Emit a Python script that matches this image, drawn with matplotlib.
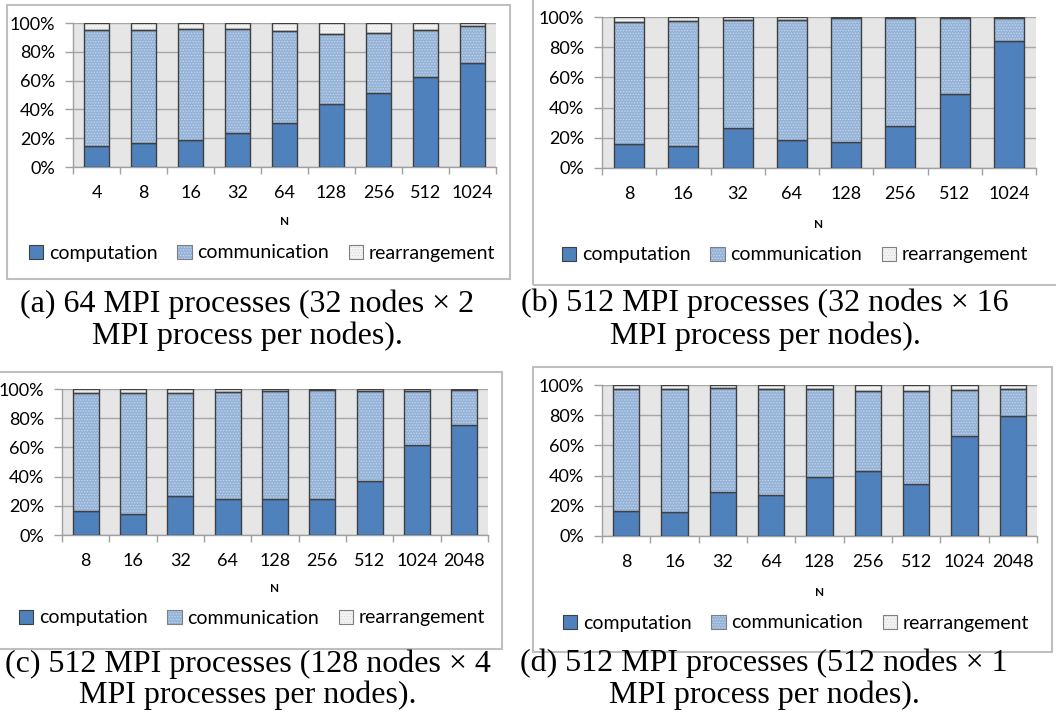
import matplotlib
matplotlib.use('Agg')
import matplotlib.pyplot as plt
from matplotlib.patches import Patch, Rectangle
from matplotlib.ticker import FixedLocator, PercentFormatter

plt.rcParams['font.family'] = ['Lato', 'DejaVu Sans']
plt.rcParams['font.serif'] = ['Liberation Serif', 'DejaVu Serif']
plt.rcParams['hatch.linewidth'] = 0.6

W, H = 1056, 727

# data (percent of run time)
n_a = ['4', '8', '16', '32', '64', '128', '256', '512', '1024']
comp_a = [14.7, 16.7, 18.6, 23.7, 30.5, 44.0, 51.6, 62.3, 72.1]
comm_a = [80.2, 78.2, 77.0, 71.9, 63.7, 48.3, 41.2, 33.0, 25.6]
rear_a = [5.1, 5.1, 4.4, 4.4, 5.8, 7.7, 7.2, 4.7, 2.3]

n_b = ['8', '16', '32', '64', '128', '256', '512', '1024']
comp_b = [15.7, 14.6, 26.5, 18.8, 17.4, 27.8, 49.2, 84.3]
comm_b = [81.0, 82.5, 71.3, 79.4, 81.7, 71.3, 49.9, 15.0]
rear_b = [3.3, 2.9, 2.2, 1.8, 0.9, 0.9, 0.9, 0.7]

n_c = ['8', '16', '32', '64', '128', '256', '512', '1024', '2048']
comp_c = [16.5, 14.6, 26.8, 24.5, 24.5, 24.5, 37.1, 61.8, 75.5]
comm_c = [80.8, 82.7, 70.7, 73.2, 73.9, 74.6, 61.8, 37.1, 23.6]
rear_c = [2.7, 2.7, 2.5, 2.3, 1.6, 0.9, 1.1, 1.1, 0.9]

n_d = ['8', '16', '32', '64', '128', '256', '512', '1024', '2048']
comp_d = [16.4, 15.9, 29.2, 27.0, 39.4, 42.9, 34.7, 66.2, 79.2]
comm_d = [80.9, 81.7, 68.8, 70.6, 58.2, 53.3, 61.5, 30.3, 18.1]
rear_d = [2.7, 2.4, 2.0, 2.4, 2.4, 3.8, 3.8, 3.5, 2.7]

series_names = ['computation', 'communication', 'rearrangement']
captions = [
    ['(a) 64 MPI processes (32 nodes \u00d7 2', 'MPI process per nodes).'],
    ['(b) 512 MPI processes (32 nodes \u00d7 16', 'MPI process per nodes).'],
    ['(c) 512 MPI processes (128 nodes \u00d7 4', 'MPI processes per nodes).'],
    ['(d) 512 MPI processes (512 nodes \u00d7 1', 'MPI process per nodes).'],
]

face = ['#4F81BD', '#95B3D7', '#F4F4F4']
dots = [None, '#C5D7EE', '#DADADA']
edge = '#404040'

# layout in pixels: plot area, frame box, N label, legend centre, caption
panels = [
    dict(ax=(73, 23, 496, 167), frame=(7, 5, 510, 279), n_y=222, n_x=285,
         leg=(262, 253), cap_x=247, cap_y=(312, 344)),
    dict(ax=(602, 17, 1036, 168), frame=(533, -5, 1062, 285), n_y=225, n_x=819,
         leg=(795, 255), cap_x=765, cap_y=(311, 344)),
    dict(ax=(62, 389, 488, 535), frame=(-5, 372, 502, 649), n_y=589, n_x=275,
         leg=(252, 618), cap_x=248, cap_y=(672, 703)),
    dict(ax=(602, 385, 1037, 536), frame=(533, 367, 1052, 652), n_y=593, n_x=820,
         leg=(796, 623), cap_x=764, cap_y=(671, 703)),
]
data = [(n_a, comp_a, comm_a, rear_a), (n_b, comp_b, comm_b, rear_b),
        (n_c, comp_c, comm_c, rear_c), (n_d, comp_d, comm_d, rear_d)]

fig = plt.figure(figsize=(W / 100, H / 100), dpi=100)


def fx(x):
    return x / W


def fy(y):
    return 1 - y / H


for p, (labels, comp, comm, rear), cap in zip(panels, data, captions):
    x0, y0, x1, y1 = p['ax']
    fr = p['frame']
    fig.add_artist(Rectangle((fx(fr[0]), fy(fr[3])), fx(fr[2] - fr[0]), (fr[3] - fr[1]) / H,
                             transform=fig.transFigure, fill=False,
                             edgecolor='#BFBFBF', lw=1.5, zorder=0))
    ax = fig.add_axes([fx(x0), fy(y1), fx(x1 - x0), (y1 - y0) / H])
    ax.set_facecolor('#E6E6E6')
    pos = list(range(len(labels)))
    bottom = [0.0] * len(labels)
    for vals, fc, dc in zip([comp, comm, rear], face, dots):
        if dc is None:
            ax.bar(pos, vals, 0.55, bottom=bottom, color=fc, edgecolor=edge, lw=1.0, zorder=3)
        else:
            ax.bar(pos, vals, 0.55, bottom=bottom, color=fc, edgecolor=dc, lw=0,
                   hatch='......', zorder=3)
            ax.bar(pos, vals, 0.55, bottom=bottom, fill=False, edgecolor=edge, lw=1.0, zorder=4)
        bottom = [b + v for b, v in zip(bottom, vals)]

    ax.set_xlim(-0.5, len(labels) - 0.5)
    ax.set_ylim(0, 100)
    ax.set_yticks([0, 20, 40, 60, 80, 100])
    ax.yaxis.set_major_formatter(PercentFormatter(decimals=0))
    ax.set_xticks(pos)
    ax.set_xticklabels(labels)
    ax.xaxis.set_minor_locator(FixedLocator([i - 0.5 for i in range(len(labels) + 1)]))
    ax.tick_params(axis='x', which='major', length=0, pad=13, labelsize=13)
    ax.tick_params(axis='x', which='minor', length=5, width=1, color='#A0A0A0')
    ax.tick_params(axis='y', length=6, width=1, color='#A0A0A0', pad=7, labelsize=13)
    ax.grid(axis='y', color='#A6A6A6', lw=1, zorder=1)
    ax.set_axisbelow(True)
    for s in ['top', 'right']:
        ax.spines[s].set_visible(False)
    for s in ['left', 'bottom']:
        ax.spines[s].set_color('#A0A0A0')
        ax.spines[s].set_linewidth(1)

    fig.text(fx(p['n_x']), fy(p['n_y']), 'N', ha='center', va='center',
             fontsize=8.5, fontweight='bold')

    handles = []
    for fc, dc in zip(face, dots):
        if dc is None:
            handles.append(Patch(facecolor=fc, edgecolor=edge, lw=0.8))
        else:
            handles.append((Patch(facecolor=fc, edgecolor=dc, lw=0, hatch='......'),
                            Patch(fill=False, edgecolor='#7F7F7F', lw=0.8)))
    fig.legend(handles, series_names, loc='center', ncol=3, frameon=False,
               bbox_to_anchor=(fx(p['leg'][0]), fy(p['leg'][1])),
               fontsize=14, handlelength=0.75, handleheight=0.75,
               handletextpad=0.3, columnspacing=1.0)

    for line, cy in zip(cap, p['cap_y']):
        fig.text(fx(p['cap_x']), fy(cy), line, ha='center', va='baseline',
                 family='serif', fontsize=23)

fig.savefig('out.png', dpi=100)
